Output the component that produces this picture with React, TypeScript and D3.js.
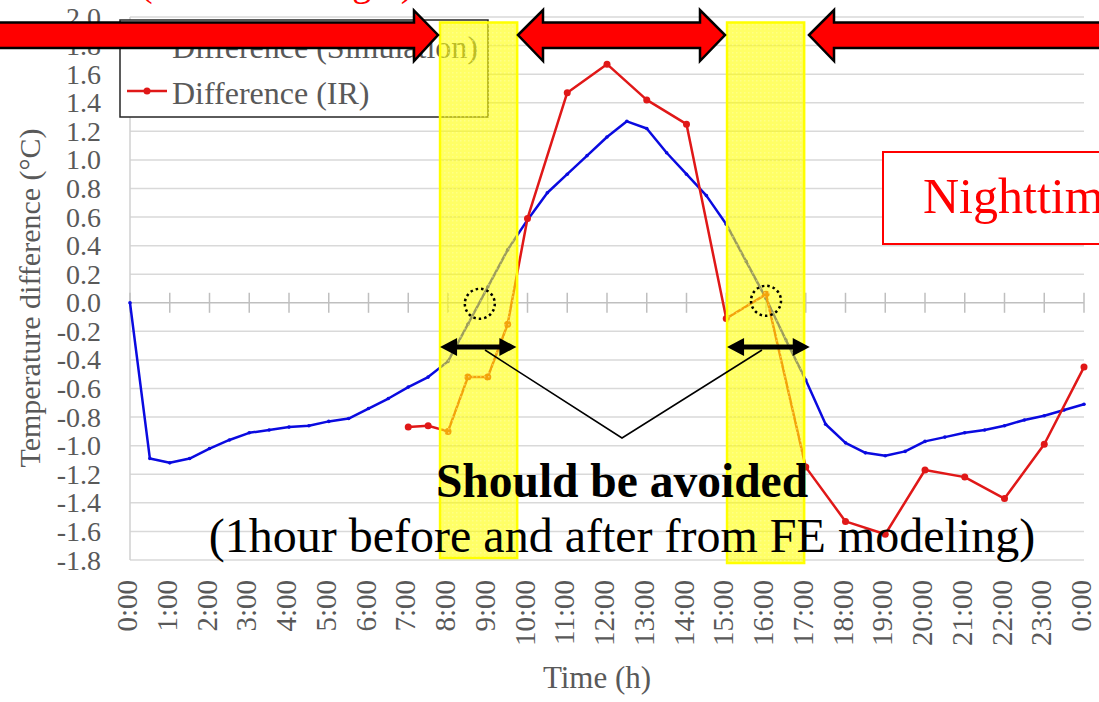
import React from "react";
import * as d3 from "d3";

// Half-hourly simulated temperature difference (°C)
const simHours = [
  0, 0.5, 1, 1.5, 2, 2.5, 3, 3.5, 4, 4.5, 5, 5.5, 6, 6.5, 7, 7.5, 8, 8.5, 9, 9.5,
  10, 10.5, 11, 11.5, 12, 12.5, 13, 13.5, 14, 14.5, 15, 15.5, 16, 16.5, 17, 17.5,
  18, 18.5, 19, 19.5, 20, 20.5, 21, 21.5, 22, 22.5, 23, 23.5, 24,
];
const simValues = [
  0.0, -1.09, -1.12, -1.09, -1.02, -0.96, -0.91, -0.89, -0.87, -0.86, -0.83, -0.81,
  -0.74, -0.67, -0.59, -0.52, -0.41, -0.15, 0.11, 0.37, 0.58, 0.77, 0.9, 1.03, 1.16,
  1.27, 1.22, 1.05, 0.9, 0.75, 0.55, 0.29, 0.03, -0.26, -0.54, -0.85, -0.98, -1.05,
  -1.07, -1.04, -0.97, -0.94, -0.91, -0.89, -0.86, -0.82, -0.79, -0.75, -0.71,
];

// Infrared-measured temperature difference (°C)
const irHours = [7, 7.5, 8, 8.5, 9, 9.5, 10, 11, 12, 13, 14, 15, 16, 17, 18, 19, 20, 21, 22, 23, 24];
const irValues = [
  -0.87, -0.86, -0.9, -0.52, -0.52, -0.15, 0.59, 1.47, 1.67, 1.42, 1.25, -0.11, 0.06,
  -1.15, -1.53, -1.62, -1.17, -1.22, -1.37, -0.99, -0.45,
];

const xTickHours = [0, 1, 2, 3, 4, 5, 6, 7, 8, 9, 10, 11, 12, 13, 14, 15, 16, 17, 18, 19, 20, 21, 22, 23, 24];
const xTickLabels = [
  "0:00", "1:00", "2:00", "3:00", "4:00", "5:00", "6:00", "7:00", "8:00", "9:00", "10:00",
  "11:00", "12:00", "13:00", "14:00", "15:00", "16:00", "17:00", "18:00", "19:00", "20:00",
  "21:00", "22:00", "23:00", "0:00",
];
const yTicks = [-1.8, -1.6, -1.4, -1.2, -1.0, -0.8, -0.6, -0.4, -0.2, 0, 0.2, 0.4, 0.6, 0.8, 1.0, 1.2, 1.4, 1.6, 1.8, 2.0];

// Transition windows (hours) to be avoided
const avoidWindows = [
  [7.8, 9.74],
  [15.02, 16.96],
];

const W = 1099;
const H = 702;
const SERIF = '"Liberation Serif", "Times New Roman", serif';
const GRAY_TEXT = "#595959";
const BLUE = "#0a0ae0";
const RED = "#e01818";

export default function App() {
  const x = d3.scaleLinear().domain([0, 24]).range([130, 1084]);
  const y = d3.scaleLinear().domain([-1.8, 2.0]).range([560, 17]);

  const simData = simHours.map((h, i) => [h, simValues[i]] as [number, number]);
  const irData = irHours.map((h, i) => [h, irValues[i]] as [number, number]);
  const line = d3
    .line<[number, number]>()
    .x((d) => x(d[0]))
    .y((d) => y(d[1]));

  const x0 = x(0);
  const x1 = x(24);
  const y0 = y(0);

  const dblArrow = (xa: number, xb: number, yy: number, key: string) => {
    const hl = 17;
    const hh = 9;
    return (
      <g key={key}>
        <line x1={xa + hl - 2} x2={xb - hl + 2} y1={yy} y2={yy} stroke="#000" strokeWidth={5} />
        <polygon points={`${xa},${yy} ${xa + hl},${yy - hh} ${xa + hl},${yy + hh}`} fill="#000" />
        <polygon points={`${xb},${yy} ${xb - hl},${yy - hh} ${xb - hl},${yy + hh}`} fill="#000" />
      </g>
    );
  };

  return (
    <svg
      width={W}
      height={H}
      viewBox={`0 0 ${W} ${H}`}
      style={{ position: "fixed", left: 0, top: 0, background: "#fff" }}
      fontFamily={SERIF}
    >
      <defs>
        <pattern id="hatch" width="4" height="4" patternUnits="userSpaceOnUse">
          <rect width="4" height="4" fill="#ffff00" fillOpacity={0.6} />
          <rect x="0" y="0" width="1.5" height="1.5" fill="#ffffb0" fillOpacity={0.45} />
        </pattern>
      </defs>

      {/* horizontal gridlines */}
      {yTicks.map((t) =>
        t === 0 ? null : (
          <line key={`g${t}`} x1={x0} x2={x1} y1={y(t)} y2={y(t)} stroke="#d9d9d9" strokeWidth={1.5} />
        )
      )}
      <line x1={x0} x2={x0} y1={y(2.0)} y2={y(-1.8)} stroke="#d0d0d0" strokeWidth={1.5} />

      {/* zero axis with hourly ticks */}
      <line x1={x0} x2={x1} y1={y0} y2={y0} stroke="#bfbfbf" strokeWidth={1.5} />
      {xTickHours.map((h) => (
        <line key={`t${h}`} x1={x(h)} x2={x(h)} y1={y0 - 10} y2={y0 + 10} stroke="#bfbfbf" strokeWidth={1.5} />
      ))}

      {/* y tick labels */}
      {yTicks.map((t) => (
        <text
          key={`yl${t}`}
          x={101}
          y={y(t)}
          textAnchor="end"
          dominantBaseline="central"
          fontSize={28}
          fill={GRAY_TEXT}
        >
          {t.toFixed(1)}
        </text>
      ))}

      {/* x tick labels */}
      {xTickHours.map((h, i) => (
        <text
          key={`xl${i}`}
          transform={`translate(${x(h) - 3},580) rotate(-90)`}
          textAnchor="end"
          dominantBaseline="central"
          fontSize={29}
          fill={GRAY_TEXT}
        >
          {xTickLabels[i]}
        </text>
      ))}

      {/* axis titles */}
      <text x={597} y={688} textAnchor="middle" fontSize={31} fill={GRAY_TEXT}>
        Time (h)
      </text>
      <text transform="translate(40,298) rotate(-90)" textAnchor="middle" fontSize={30} fill={GRAY_TEXT}>
        Temperature difference (°C)
      </text>

      {/* series */}
      <path d={line(simData) ?? ""} fill="none" stroke={BLUE} strokeWidth={2.5} strokeLinejoin="round" />
      {simData.map((d, i) => (
        <circle key={`sp${i}`} cx={x(d[0])} cy={y(d[1])} r={1.8} fill={BLUE} />
      ))}
      <path d={line(irData) ?? ""} fill="none" stroke={RED} strokeWidth={2.5} strokeLinejoin="round" />
      {irData.map((d, i) => (
        <circle key={`ip${i}`} cx={x(d[0])} cy={y(d[1])} r={3.5} fill={RED} />
      ))}

      {/* legend */}
      <rect x={120} y={20} width={368} height={97} fill="#fff" stroke="#262626" strokeWidth={1.5} />
      <line x1={127} x2={167} y1={47} y2={47} stroke={BLUE} strokeWidth={2.5} />
      <circle cx={147} cy={47} r={2} fill={BLUE} />
      <text x={172} y={58} fontSize={32} fill={GRAY_TEXT}>
        Difference (Simulation)
      </text>
      <line x1={127} x2={167} y1={91} y2={91} stroke={RED} strokeWidth={2.5} />
      <circle cx={147} cy={91} r={3.5} fill={RED} />
      <text x={172} y={104} fontSize={32} fill={GRAY_TEXT}>
        Difference (IR)
      </text>

      {/* highlighted transition windows */}
      {avoidWindows.map(([a, b], i) => (
        <rect
          key={`aw${i}`}
          x={x(a)}
          y={22.5}
          width={x(b) - x(a)}
          height={(i === 0 ? 558 : 563) - 22.5}
          fill="url(#hatch)"
          stroke="#ffff00"
          strokeWidth={2.5}
        />
      ))}

      {/* period arrows */}
      <g fill="#ff0000" stroke="#000" strokeWidth={2.5} strokeLinejoin="miter">
        <polygon points="-10,22.5 414,22.5 414,10.5 438,35 414,61 414,48 -10,48" />
        <polygon points="518,35 543,10 543,22.5 700,22.5 700,10 725,35 700,61 700,48 543,48 543,61" />
        <polygon points="809,35 834,10 834,22.5 1110,22.5 1110,48 834,48 834,61" />
      </g>
      <text x={140} y={-4} fontSize={38} fill="#ff0000">
        (without sunlight)
      </text>

      {/* nighttime label */}
      <rect x={883} y={152} width={260} height={92} fill="#fff" stroke="#ff0000" strokeWidth={2} />
      <text x={923} y={213} fontSize={50} fill="#ff0000">
        Nighttime
      </text>

      {/* zero-crossing markers */}
      <circle cx={x(8.8)} cy={y0 + 1} r={15} fill="none" stroke="#000" strokeWidth={2.5} strokeDasharray="2.5 3" />
      <circle cx={x(16.0)} cy={y0 - 2} r={15} fill="none" stroke="#000" strokeWidth={2.5} strokeDasharray="2.5 3" />

      {/* window span arrows and pointer lines */}
      {dblArrow(x(7.8), x(9.72), 347, "da1")}
      {dblArrow(x(15.02), x(17.1), 347, "da2")}
      <polyline points="485,350 622,438 762,350" fill="none" stroke="#000" strokeWidth={1.5} />

      <text x={622} y={497} textAnchor="middle" fontSize={47.5} fontWeight="bold" fill="#000">
        Should be avoided
      </text>
      <text x={622} y={552} textAnchor="middle" fontSize={48} fill="#000">
        (1hour before and after from FE modeling)
      </text>
    </svg>
  );
}
